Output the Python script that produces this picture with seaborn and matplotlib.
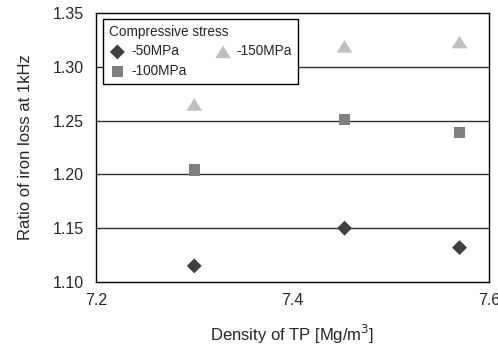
import numpy as np
import pandas as pd
import matplotlib
matplotlib.use("Agg")
import matplotlib.pyplot as plt
import seaborn as sns

sns.set_theme(style="white")
plt.rcParams['font.family'] = ['Liberation Sans', 'DejaVu Sans']

density = [7.30, 7.453, 7.57]
stress_labels = ["-50MPa", "-100MPa", "-150MPa"]
ratio_50 = [1.115, 1.150, 1.132]
ratio_100 = [1.204, 1.251, 1.239]
ratio_150 = [1.265, 1.319, 1.323]

rows = []
for lab, vals in zip(stress_labels, [ratio_50, ratio_100, ratio_150]):
    for x, y in zip(density, vals):
        rows.append({"density": x, "ratio": y, "stress": lab})
df = pd.DataFrame(rows)

fig = plt.figure(figsize=(4.98, 3.48), dpi=100)
ax = fig.add_axes([96/498, 1-282/348, (489-96)/498, (282-13)/348])

for y in [1.15, 1.20, 1.25, 1.30]:
    ax.axhline(y, color="#303030", lw=1.0, zorder=0)

flat_tri = [(-1, -0.8), (1, -0.8), (0, 0.8), (-1, -0.8)]
palette = {"-50MPa": "#404040", "-100MPa": "#808080", "-150MPa": "#c0c0c0"}
markers = {"-50MPa": "D", "-100MPa": "s", "-150MPa": flat_tri}
sizes = {"-50MPa": 58, "-100MPa": 66, "-150MPa": 128}
for lab in stress_labels:
    sub = df[df.stress == lab]
    sns.scatterplot(data=sub, x="density", y="ratio", ax=ax, color=palette[lab],
                    marker=markers[lab], s=sizes[lab], edgecolor="none", label=lab,
                    zorder=3)

ax.set_xlim(7.2, 7.6)
ax.set_ylim(1.10, 1.35)
ax.set_xticks([7.2, 7.4, 7.6])
ax.set_xticklabels(["7.2", "7.4", "7.6"])
ax.set_yticks([1.10, 1.15, 1.20, 1.25, 1.30, 1.35])
ax.set_yticklabels(["1.10", "1.15", "1.20", "1.25", "1.30", "1.35"])
ax.tick_params(axis="x", direction="in", length=4, color="black", labelsize=11.5, pad=8)
ax.tick_params(axis="y", direction="in", length=4, color="black", labelsize=11.5, pad=9)
for s in ax.spines.values():
    s.set_color("black")
    s.set_linewidth(1.0)

ax.set_xlabel("Density of TP [Mg/m$^3$]", fontsize=12, labelpad=11)
ax.set_ylabel("Ratio of iron loss at 1kHz", fontsize=12, labelpad=14)

leg = ax.legend(title="Compressive stress", ncol=2, loc="upper left",
                bbox_to_anchor=(0.018, 0.978), fontsize=9.8, title_fontsize=9.8,
                frameon=True, fancybox=False, edgecolor="black",
                handletextpad=0.4, columnspacing=2.1, labelspacing=0.4,
                borderpad=0.45, handlelength=1.2, borderaxespad=0)
leg._legend_box.align = "left"
leg.get_frame().set_linewidth(1.0)
leg.get_frame().set_alpha(1)

fig.savefig("out.png", dpi=100)
